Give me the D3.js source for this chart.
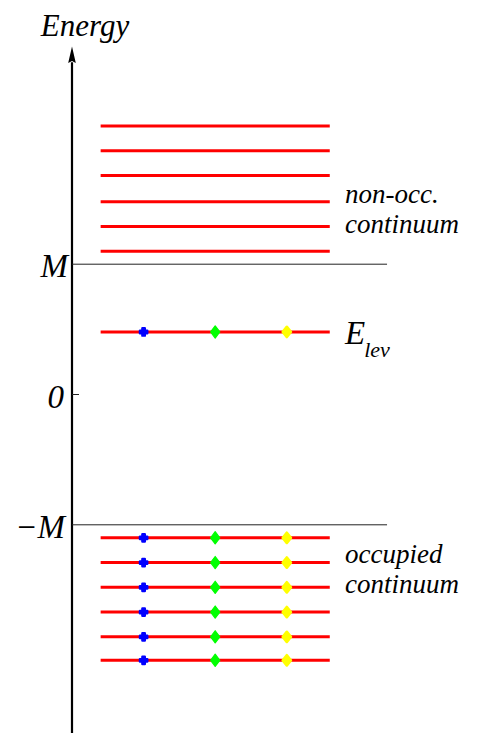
<!DOCTYPE html>
<html>
<head>
<meta charset="utf-8">
<script src="https://cdn.jsdelivr.net/npm/d3@7"></script>
<style>
  html, body { margin: 0; padding: 0; background: #fff; }
  svg { display: block; }
</style>
</head>
<body>
<svg id="chart" width="481" height="733"></svg>
<script>
// Energy levels (in units of M)
const upperLevels = [1.10, 1.29, 1.48, 1.68, 1.87, 2.06];   // non-occupied continuum
const boundLevel = [0.48];                                 // E_lev
const lowerLevels = [-1.10, -1.29, -1.48, -1.67, -1.86, -2.04]; // occupied continuum

// Reference energies and their tick labels
const refEnergies = [1, 0, -1];
const refLabels = ["M", "0", "\u2212M"];

// Occupation markers along each occupied level
const markerX = [1, 2, 3];
const markerColors = ["#0000ff", "#00ff00", "#ffff00"];
const markerShapes = ["cross", "diamond", "round"];

// Horizontal extent of level lines and reference lines
const levelSpan = [0.4, 3.6];
const refSpan = [0, 4.4];

const serif = "'Liberation Serif', 'Times New Roman', Times, 'DejaVu Serif', serif";

const width = 481, height = 733;
const svg = d3.select("#chart");

const x = d3.scaleLinear().domain([0, 1]).range([72, 143.6]);
const y = d3.scaleLinear().domain([0, 1]).range([394.5, 264.2]);

function label(sel) {
  return sel.attr("font-family", serif).attr("font-style", "italic").attr("fill", "#000");
}

// Energy axis with arrow
svg.append("line")
  .attr("x1", x(0)).attr("x2", x(0))
  .attr("y1", y(-2.67)).attr("y2", y(2.55))
  .attr("stroke", "#000").attr("stroke-width", 2.2);

const tipY = y(2.67), baseY = y(2.545);
svg.append("path")
  .attr("d", `M${x(0)},${tipY} L${x(0) + 3.8},${baseY} L${x(0)},${baseY - 2} L${x(0) - 3.8},${baseY} Z`)
  .attr("fill", "#000");

svg.append("text")
  .call(label)
  .attr("x", 85).attr("y", 36)
  .attr("text-anchor", "middle")
  .attr("font-size", 31)
  .text("Energy");

// Reference lines at ±M, short tick at 0
svg.selectAll("line.ref")
  .data(refEnergies.filter(e => e !== 0))
  .join("line")
  .attr("class", "ref")
  .attr("x1", x(refSpan[0])).attr("x2", x(refSpan[1]))
  .attr("y1", d => y(d)).attr("y2", d => y(d))
  .attr("stroke", "#222").attr("stroke-width", 1);

svg.append("line")
  .attr("x1", x(0)).attr("x2", x(0) + 7)
  .attr("y1", y(0)).attr("y2", y(0))
  .attr("stroke", "#222").attr("stroke-width", 1);

const labelRight = [68, 64, 65];
svg.selectAll("text.tick")
  .data(refEnergies)
  .join("text")
  .attr("class", "tick")
  .call(label)
  .attr("x", (d, i) => labelRight[i])
  .attr("y", d => y(d) + 13)
  .attr("text-anchor", "end")
  .attr("font-size", 33)
  .text((d, i) => refLabels[i]);

// Level lines
const allLevels = upperLevels.concat(boundLevel, lowerLevels);
svg.selectAll("line.level")
  .data(allLevels)
  .join("line")
  .attr("class", "level")
  .attr("x1", x(levelSpan[0])).attr("x2", x(levelSpan[1]))
  .attr("y1", d => y(d)).attr("y2", d => y(d))
  .attr("stroke", "#ff0000").attr("stroke-width", 3);

// Markers on occupied levels (bound level + occupied continuum)
const occupied = boundLevel.concat(lowerLevels);
const markers = [];
occupied.forEach(e => markerX.forEach((mx, i) => markers.push({ e, mx, i })));

// Diamond symbol with a given half-width / half-height
const diamond = (hw, hh) => ({
  draw(ctx) {
    ctx.moveTo(0, -hh);
    ctx.lineTo(hw, 0);
    ctx.lineTo(0, hh);
    ctx.lineTo(-hw, 0);
    ctx.closePath();
  }
});

const shapePath = {
  cross: d3.symbol().type(d3.symbolCross).size(30)(),
  diamond: d3.symbol().type(diamond(4.6, 6.1))(),
  round: d3.symbol().type(diamond(4.0, 5.0))()
};
const shapeStroke = { cross: 2.4, diamond: 1.2, round: 2.8 };

svg.selectAll("path.marker")
  .data(markers)
  .join("path")
  .attr("class", "marker")
  .attr("transform", d => `translate(${x(d.mx)},${y(d.e)})`)
  .attr("d", d => shapePath[markerShapes[d.i]])
  .attr("fill", d => markerColors[d.i])
  .attr("stroke", d => markerColors[d.i])
  .attr("stroke-width", d => shapeStroke[markerShapes[d.i]])
  .attr("stroke-linejoin", "round");

// Annotations
const annotX = 345;
const nonOcc = svg.append("text").call(label).attr("x", annotX).attr("font-size", 27);
nonOcc.append("tspan").attr("x", annotX).attr("y", 203).text("non-occ.");
nonOcc.append("tspan").attr("x", annotX).attr("y", 233).text("continuum");

const occ = svg.append("text").call(label).attr("x", annotX).attr("font-size", 27);
occ.append("tspan").attr("x", annotX).attr("y", 563).text("occupied");
occ.append("tspan").attr("x", annotX).attr("y", 593).text("continuum");

const elev = svg.append("text").call(label).attr("x", annotX).attr("y", y(boundLevel[0]) + 12).attr("font-size", 33);
elev.append("tspan").text("E");
elev.append("tspan").attr("font-size", 22).attr("dy", 13).attr("dx", -1).text("lev");
</script>
</body>
</html>
